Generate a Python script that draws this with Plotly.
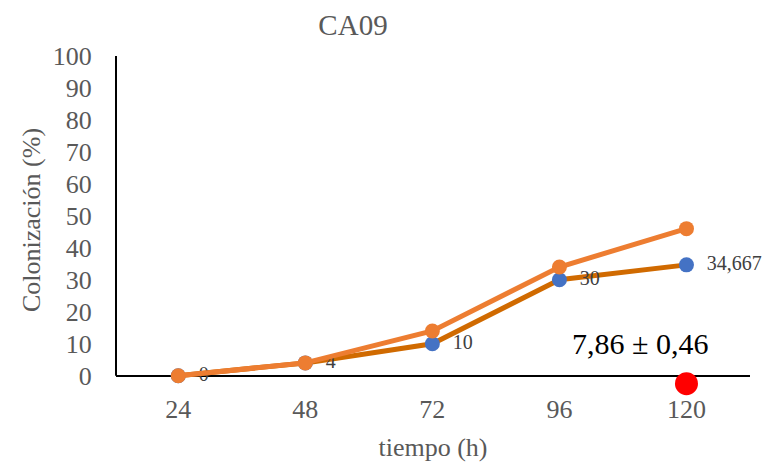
import plotly.graph_objects as go

categories = ["24", "48", "72", "96", "120"]
series_a = [0, 4, 14, 34, 46]
series_b = [0, 4, 10, 30, 34.667]
labels_b = ["0", "4", "10", "30", "34,667"]
red_point_cat = "120"
red_point_y = -2.5
annotation_cat = "120"
annotation_y = 10
annotation_text = "7,86 ± 0,46"

serif = "Liberation Serif, Times New Roman, serif"
xpos = list(range(len(categories)))

fig = go.Figure()
fig.add_trace(go.Scatter(
    x=xpos, y=series_b, mode="lines+markers+text",
    line=dict(color="#D06A00", width=5),
    marker=dict(color="#4472C4", size=15),
    text=["  " + t for t in labels_b], textposition="middle right",
    textfont=dict(family=serif, size=20, color="#404040"),
    showlegend=False, cliponaxis=False,
))
fig.add_trace(go.Scatter(
    x=xpos, y=series_a, mode="lines+markers",
    line=dict(color="#ED7D31", width=5),
    marker=dict(color="#ED7D31", size=15),
    showlegend=False, cliponaxis=False,
))
fig.add_trace(go.Scatter(
    x=[categories.index(red_point_cat)], y=[red_point_y], mode="markers",
    marker=dict(color="#FF0000", size=23),
    showlegend=False, cliponaxis=False,
))
fig.add_annotation(
    x=categories.index(annotation_cat), y=annotation_y, xref="x", yref="y",
    text=annotation_text, showarrow=False, xshift=-46,
    font=dict(family=serif, size=30, color="#000000"),
)
# vertical axis line from 0 to 100
fig.add_shape(type="line", xref="paper", yref="y", x0=0, x1=0, y0=0, y1=100,
              line=dict(color="black", width=2), layer="below")

fig.update_layout(
    width=766, height=460,
    margin=dict(l=108, r=24, t=48, b=82),
    paper_bgcolor="white", plot_bgcolor="white",
    title=dict(text="CA09", x=0.4504, xanchor="center", y=0.963, yanchor="middle",
               font=dict(family=serif, size=29, color="#595959")),
)
fig.update_xaxes(
    range=[-0.49, 4.5], tickvals=xpos, ticktext=categories,
    showline=False, showgrid=False, zeroline=False,
    ticks="outside", ticklen=2, tickcolor="rgba(0,0,0,0)",
    tickfont=dict(family=serif, size=26, color="#595959"),
    title=dict(text="tiempo (h)", font=dict(family=serif, size=26, color="#595959"), standoff=14),
)
fig.update_yaxes(
    range=[-2.6, 100], tickvals=list(range(0, 101, 10)),
    showline=False, showgrid=False,
    zeroline=True, zerolinecolor="black", zerolinewidth=2,
    ticks="outside", ticklen=18, tickcolor="rgba(0,0,0,0)",
    tickfont=dict(family=serif, size=26, color="#595959"),
    title=dict(text="Colonización (%)", font=dict(family=serif, size=26, color="#595959"), standoff=4),
)

fig.write_html("out.html")
